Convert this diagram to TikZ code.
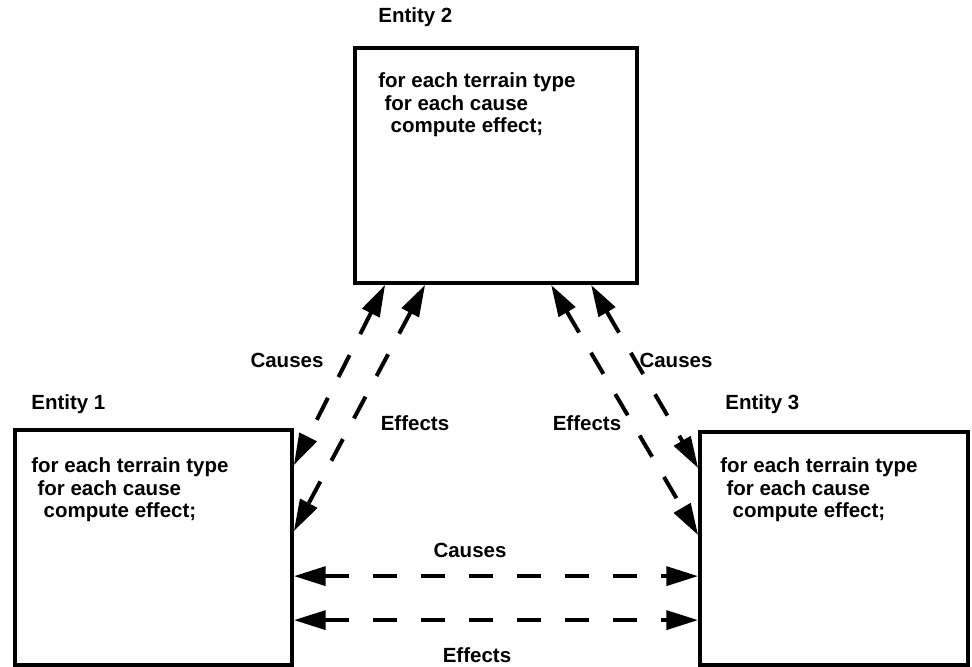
\documentclass[tikz,border=0pt]{standalone}
\usepackage{fontspec}
\setmainfont{Liberation Sans}
\usetikzlibrary{arrows.meta,calc,positioning}

\begin{document}
\begin{tikzpicture}[x=0.03cm,y=0.03cm,
    entity/.style={rectangle,draw,line width=3.2pt,inner sep=0pt},
    code/.style={anchor=north west,align=left,inner sep=0pt,font=\fontsize{17.5}{19.5}\selectfont\bfseries},
    lbl/.style={inner sep=0pt,font=\fontsize{17.5}{19.5}\selectfont\bfseries},
    link/.style={{Triangle[length=27pt,width=16pt]}-{Triangle[length=27pt,width=16pt]},line width=3.4pt,dash pattern=on 21pt off 20pt}]
    \useasboundingbox (0,0) rectangle (972,667);
    % the three entities
    \node[entity,minimum width=8.46cm,minimum height=7.05cm] (e2) at (496,501.5) {};
    \node[entity,minimum width=8.31cm,minimum height=7.05cm] (e1) at (153.5,119.5) {};
    \node[entity,minimum width=8.04cm,minimum height=6.99cm] (e3) at (834,118.5) {};
    \node[lbl,anchor=base west] (t2) at ($(e2.north west)+(25,24)$) {Entity 2};
    \node[lbl,anchor=base west] (t1) at ($(e1.north west)+(18,19)$) {Entity 1};
    \node[lbl,anchor=base west] (t3) at ($(e3.north west)+(27,21)$) {Entity 3};
    \node[code] (c2) at ($(e2.north west)+(25,-26)$) {for each terrain type\\\hspace{0.3em}for each cause\\\hspace{0.6em}compute effect;};
    \node[code] (c1) at ($(e1.north west)+(18,-29)$) {for each terrain type\\\hspace{0.3em}for each cause\\\hspace{0.6em}compute effect;};
    \node[code] (c3) at ($(e3.north west)+(22,-27)$) {for each terrain type\\\hspace{0.3em}for each cause\\\hspace{0.6em}compute effect;};
    % connectors
    \draw[link] ($(e2.south west)+(32,0)$) -- ($(e1.north east)+(0,-37)$);
    \draw[link] ($(e2.south west)+(72,0)$) -- ($(e1.north east)+(0,-103)$);
    \draw[link] ($(e2.south west)+(198,0)$) -- ($(e3.north west)+(0,-105)$);
    \draw[link] ($(e2.south west)+(238,0)$) -- ($(e3.north west)+(0,-38)$);
    \draw[link] ($(e1.north east)+(0,-148)$) -- ($(e3.north west)+(0,-146)$);
    \draw[link] ($(e1.north east)+(0,-192)$) -- ($(e3.north west)+(0,-190)$);
    \node[lbl] (cl) at (287,307) {Causes};
    \node[lbl] (el) at (415,244) {Effects};
    \node[lbl] (cr) at (676,307) {Causes};
    \node[lbl] (er) at (587,244) {Effects};
    \node[lbl] (cb) at (470,117) {Causes};
    \node[lbl] (eb) at (477,12) {Effects};
\end{tikzpicture}
\end{document}
